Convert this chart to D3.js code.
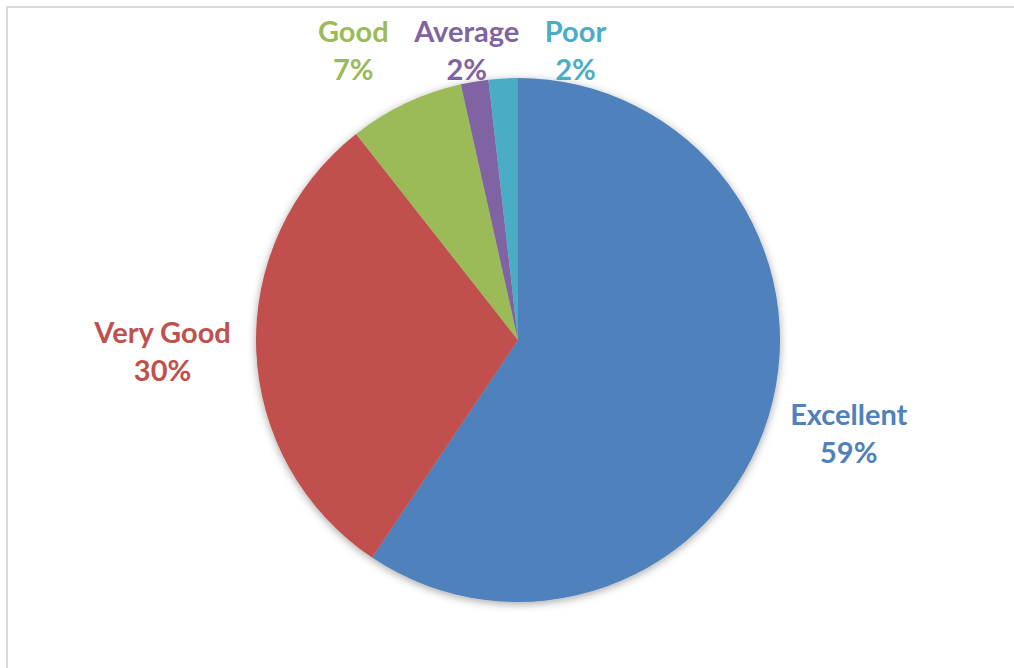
<!DOCTYPE html>
<html>
<head>
<meta charset="utf-8">
<script src="https://cdn.jsdelivr.net/npm/d3@7"></script>
<style>
  html, body { margin: 0; padding: 0; background: #ffffff; }
  svg { display: block; }
  .lbl { font-family: Lato, "Noto Sans", sans-serif; font-weight: 700; }
</style>
</head>
<body>
<svg id="chart" width="1014" height="668"></svg>
<script>
// Survey rating shares (percent)
const categories = ["Excellent", "Very Good", "Good", "Average", "Poor"];
const shares = [59.4, 30.0, 7.1, 1.7, 1.8];
const colors = ["#4F81BD", "#C0504D", "#9BBB59", "#8064A2", "#4BACC6"];

const W = 1014, H = 668;
const frameTop = 7;
const cx = 518, cy = 340, radius = 262;
const labelPad = 25;          // gap between pie edge and label box
const fontSize = 29, lineGap = 38;
const rowShift = 18;          // nudge for the crowded top row

const svg = d3.select("#chart");

// Chart frame
svg.append("path")
  .attr("d", `M${frameTop},${H} V${frameTop} H${W}`)
  .attr("fill", "none")
  .attr("stroke", "#d9d9d9")
  .attr("stroke-width", 2);

// Soft shadow behind the pie
const defs = svg.append("defs");
const f = defs.append("filter").attr("id", "pieShadow")
  .attr("x", "-20%").attr("y", "-20%").attr("width", "140%").attr("height", "140%");
f.append("feDropShadow")
  .attr("dx", 0).attr("dy", 2)
  .attr("stdDeviation", 4)
  .attr("flood-color", "#000").attr("flood-opacity", 0.35);

const data = categories.map((c, i) => ({ name: c, value: shares[i], color: colors[i] }));
const total = d3.sum(shares);

const pie = d3.pie().value(d => d.value).sort(null);
const arcs = pie(data);
const arc = d3.arc().innerRadius(0).outerRadius(radius);

const g = svg.append("g").attr("transform", `translate(${cx},${cy})`);
g.append("g").attr("filter", "url(#pieShadow)")
  .selectAll("path")
  .data(arcs)
  .join("path")
  .attr("d", arc)
  .attr("fill", d => d.data.color);

// Labels: category name above rounded percentage, placed outside each slice
const pct = d3.format(".0%");
const labels = g.append("g").selectAll("g.lbl")
  .data(arcs)
  .join("g")
  .attr("class", "lbl")
  .attr("fill", d => d.data.color)
  .attr("font-size", fontSize)
  .attr("text-anchor", "middle");

labels.append("text").attr("y", -lineGap / 2 + 10).text(d => d.data.name);
labels.append("text").attr("y", lineGap / 2 + 10).text(d => pct(d.data.value / total));

// Each label box sits just outside the rim along its slice's mid-angle
const boxH = lineGap * 2 - 6;
const items = arcs.map((d, i) => {
  const a = (d.startAngle + d.endAngle) / 2;
  const node = labels.nodes()[i];
  const w = node.getBBox().width;
  const sx = Math.sin(a), sy = -Math.cos(a);
  const r = radius + labelPad;
  return {
    x: sx * r + sx * w / 2,
    y: sy * r + sy * boxH / 2,
    w, node
  };
});

// Labels pushed above the frame share one row and are spread apart
const minY = frameTop + 44 - cy;
const row = items.filter(it => it.y < minY);
row.forEach(it => { it.y = minY; });
row.sort((a, b) => a.x - b.x);
const gap = 25;
for (let iter = 0; iter < 200; iter++) {
  let moved = false;
  for (let k = 0; k < row.length - 1; k++) {
    const a = row[k], b = row[k + 1];
    const need = a.w / 2 + b.w / 2 + gap - (b.x - a.x);
    if (need > 0.01) {
      a.x -= need / 2; b.x += need / 2; moved = true;
    }
  }
  if (!moved) break;
}
row.forEach(it => { it.x += rowShift; });

items.forEach(it => d3.select(it.node).attr("transform", `translate(${it.x},${it.y})`));
</script>
</body>
</html>
